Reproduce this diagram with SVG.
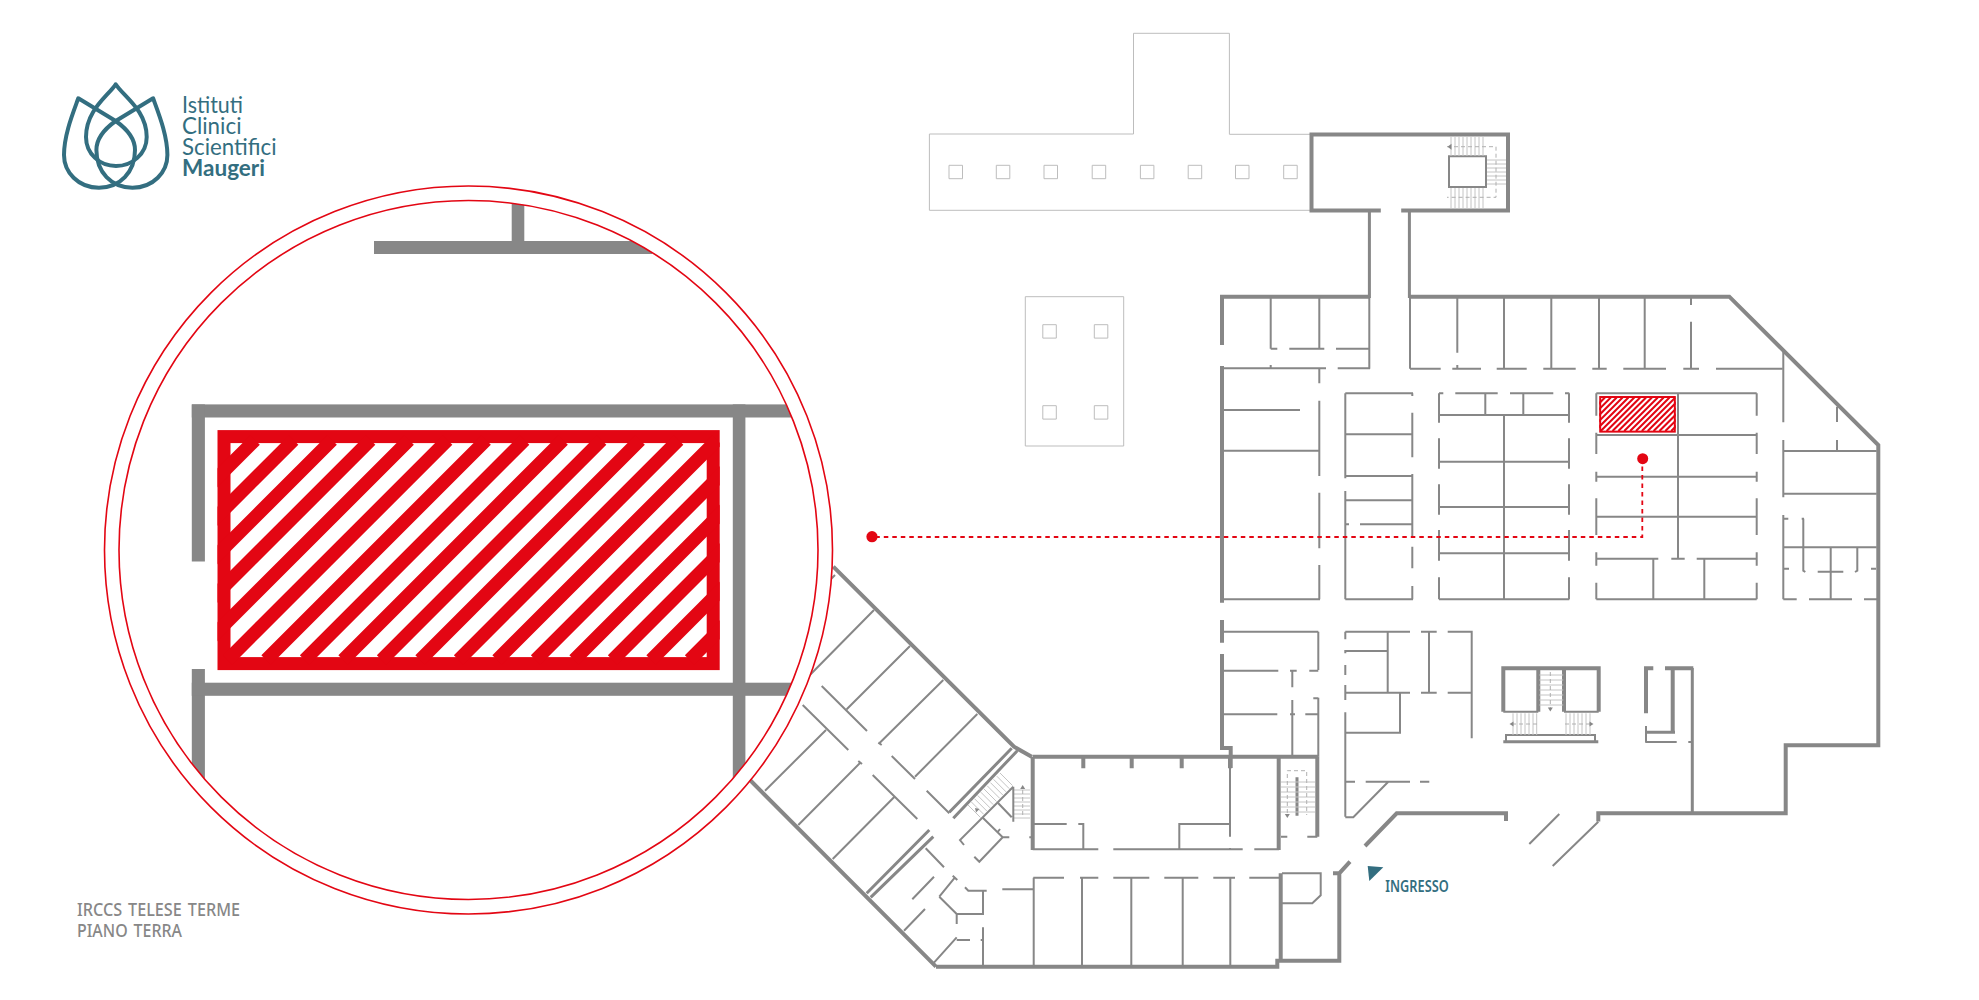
<svg xmlns="http://www.w3.org/2000/svg" width="1979" height="1000" viewBox="0 0 1979 1000">
<style>
text{font-family:"Noto Sans","Open Sans","Liberation Sans",sans-serif}
.teal{fill:#336e80}
.lt{font-family:Lato,"Noto Sans",sans-serif;font-size:22.5px}
.logo{fill:none;stroke:#336e80;stroke-width:4;stroke-linejoin:round}
.t{fill:none;stroke:#878787;stroke-width:2}
.m{fill:none;stroke:#878787;stroke-width:3}
.k{fill:none;stroke:#878787;stroke-width:4}
.o{fill:none;stroke:#bdbdbd;stroke-width:1}
.s{fill:none;stroke:#c4c4c4;stroke-width:1}
.d{fill:none;stroke:#b0b0b0;stroke-width:1;stroke-dasharray:4 3}
.a{fill:#878787}
.gt{fill:#878787;font-size:18px;font-weight:500;word-spacing:2px}
.mag{fill:#878787}
.ring{fill:none;stroke:#e30613;stroke-width:1.6}
.red{fill:#e30613}
</style>
<defs>
<clipPath id="inner"><circle cx="468.5" cy="550" r="349.5"/></clipPath>
<clipPath id="hc"><rect x="217.5" y="430" width="502.2" height="240"/></clipPath>
<g id="hatch">
<rect x="224" y="436.6" width="489.2" height="227" fill="#fff" stroke="#e30613" stroke-width="13"/>
<path clip-path="url(#hc)" fill="none" stroke="#e30613" stroke-width="13.4" d="M255.1 440l-220 220M293.6 440l-220 220M332.1 440l-220 220M370.6 440l-220 220M409.1 440l-220 220M447.6 440l-220 220M486.1 440l-220 220M524.6 440l-220 220M563.1 440l-220 220M601.6 440l-220 220M640.1 440l-220 220M678.6 440l-220 220M717.1 440l-220 220M755.6 440l-220 220M794.1 440l-220 220M832.6 440l-220 220M871.1 440l-220 220M909.6 440l-220 220"/>
</g>
</defs>

<g id="logo">
<path class="logo" d="M115.7 84.3C108 96 86 110 86 137C86 154 100 166 116 166C132 166 146.7 154 146.7 137C146.7 110 123 96 115.7 84.3Z"/>
<path class="logo" d="M78.3 98.3L115.7 121C127 129 135 138 135 150C135 172 120 187.7 99 187.7C78 187.7 64 172 64 155C64 135 73 113 78.3 98.3Z"/>
<path class="logo" d="M153.1 98.3L115.7 121C104.4 129 96.4 138 96.4 150C96.4 172 111.4 187.7 132.4 187.7C153.4 187.7 167.4 172 167.4 155C167.4 135 158.4 113 153.1 98.3Z"/>
<text class="teal lt" x="182" y="112.7" textLength="61" lengthAdjust="spacingAndGlyphs">Istituti</text>
<text class="teal lt" x="182" y="133.7" textLength="59.5" lengthAdjust="spacingAndGlyphs">Clinici</text>
<text class="teal lt" x="182" y="155" textLength="94.5" lengthAdjust="spacingAndGlyphs">Scientifici</text>
<text class="teal lt" x="182" y="176" font-weight="700" textLength="83" lengthAdjust="spacingAndGlyphs">Maugeri</text>
</g>

<g id="annex">
<path class="o" d="M1310 134.3H1229.4V33.3H1133.5V134H929.4V210.3H1310"/>
<path class="o" d="M949 165.3h13.5v13.4h-13.5zM996.3 165.3h13.5v13.4h-13.5zM1044 165.3h13.5v13.4h-13.5zM1092.2 165.3h13.5v13.4h-13.5zM1140.4 165.3h13.5v13.4h-13.5zM1188.2 165.3h13.5v13.4h-13.5zM1235.5 165.3h13.5v13.4h-13.5zM1283.7 165.3h13.5v13.4h-13.5z"/>
<path class="o" d="M1025.3 296.7H1123.7V446H1025.3Z"/>
<path class="o" d="M1042.8 324.7h13.5v13.4h-13.5zM1094.3 324.7h13.5v13.4h-13.5zM1042.8 405.7h13.5v13.4h-13.5zM1094.3 405.7h13.5v13.4h-13.5z"/>
</g>

<g id="plan">
<path class="k" d="M1380.8 210.5H1311.5V134.5H1508V210.5H1401.2"/>
<path class="m" d="M1369.4 210V298M1409.4 210V298"/>
<path class="m" d="M1449 156.3H1486V187H1449Z" style="stroke-width:2"/>
<path class="s" d="M1451 137V156M1455 137V156M1459 137V156M1463 137V156M1467 137V156M1471 137V156M1475 137V156M1479 137V156M1483 137V156M1451 188V208M1455 188V208M1459 188V208M1463 188V208M1467 188V208M1471 188V208M1475 188V208M1479 188V208M1483 188V208M1487 160H1506M1487 164H1506M1487 168H1506M1487 172H1506M1487 176H1506M1487 180H1506M1487 184H1506"/>
<path class="d" d="M1447 146.7H1496V197.3H1447"/>
<polygon class="a" points="1447.5,146.7 1451.5,143.7 1451.5,149.7"/>

<path class="k" d="M1222 345V296.7H1369.4M1409.4 296.7H1729.3L1878.3 445V745.3H1785.7V813.3H1598.3V821.5M1222 366V602.7M1222 620V642.7M1222 654V748H1230.7V768M1032.7 756.7H1318.3M1506 821V813.3H1396.7L1365 846M1350 861.7L1339.3 873.3V960.7H1280.7M1333 873.3H1339.3M1280.7 873.3V960.7M936 966.7H1277.3V960.7H1281M833.3 566.7L1014 746.7L1031.7 756.7M750 780L936 966.7M1032.7 756.7V850M1278.7 756.7V850M1317.3 756.7V836.7M1083.3 756.7V768.3M1131.7 756.7V768.3M1181.7 756.7V768.3M1230 756.7V768.3"/>
<path class="m" d="M949.3 812.3L1011.7 748.3M953.3 818.3L1017.3 750.7M866.7 893.3L929.3 830M870.7 897.3L933.3 836.7M1297 777.3V815.7M1503.3 741.7H1598.3"/>
<path class="t" d="M1552.7 866L1598.3 821.7M1529.3 844L1559.3 814"/>

<path class="t" d="M1270.7 296.7V348.7M1319.3 296.7V349M1369.3 296.7V368.7M1270.7 348.7H1277.3M1289.3 348.7H1324.3M1336 348.7H1369.3M1224 368.3H1326M1337.7 368.3H1370M1270.7 365V368.3M1319.3 368.3V383.3M1319.3 400.7V476M1319.3 492.7V548.3M1319.3 565V599.3M1224 410H1300M1224 450.7H1319.3M1224 599.3H1320"/>
<path class="t" d="M1345.3 393.3V478.3M1345.3 491V599.3M1412.3 393.3V396M1412.3 412.7V457.3M1412.3 474V536M1412.3 546.7V568.3M1412.3 586V599.3M1345.3 393.3H1413M1345.3 434.3H1412.3M1345.3 476H1412.3M1345.3 500.3H1412.3M1345.3 524.3H1349M1360 524.3H1412.3M1345.3 599.3H1413"/>
<path class="t" d="M1439 393.3V422.7M1439 438.3V468.7M1439 484.3V514.7M1439 530V560.7M1439 577.3V599.3M1569 393.3V422.7M1569 438.3V468.7M1569 484.3V514.7M1569 530V560.7M1569 577.3V599.3M1504 415V599.3M1439 393.3H1443.3M1455.3 393.3H1497.7M1510 393.3H1553.3M1565 393.3H1569.3M1439 415H1569M1485.3 393.3V415M1523.3 393.3V415M1439 461.7H1569M1439 507H1569M1439 553.3H1569M1439 599.3H1569.3"/>
<path class="t" d="M1410 296.7V368.7M1410 368.7H1440.7M1452.3 368.7H1481M1496.7 368.7H1526.7M1543.3 368.7H1575.7M1592.3 368.7H1606.7M1623.3 368.7H1666M1683.3 368.7H1699M1716 368.7H1782.7M1457.3 296.7V352.7M1457.3 365V368.7M1504 296.7V368.7M1551.3 296.7V368.7M1599 296.7V368.7M1644.7 296.7V368.7M1691 296.7V305M1691 321.7V368.7"/>
<path class="t" d="M1596.3 393.3V415.7M1596.3 432.7V454M1596.3 471.7V481.7M1596.3 498.3V535M1596.3 552.3V565.7M1596.3 582.7V599.3M1756.7 393.3V415.7M1756.7 432.7V454M1756.7 471.7V481.7M1756.7 498.3V535M1756.7 552.3V565.7M1756.7 582.7V599.3M1678 393.3V558.7M1596.3 393.3H1756.7M1596.3 435H1756.7M1596.3 476.7H1756.7M1596.3 516.7H1756.7M1596.3 558.7H1658.3M1671.3 558.7H1684.7M1696.7 558.7H1756.7M1596.3 599.3H1756.7M1653.3 558.7V599.3M1704.3 558.7V599.3"/>
<path class="t" d="M1783.3 351.7V422.3M1783.3 440V497.3M1783.3 515V599.3M1837 406.7V422M1837 440V451M1783.3 451H1876.7M1783.3 493.7H1876.7M1783.3 547.3H1876.7M1783.3 518.7H1788.3M1801.7 518.7H1804M1803.3 518.7V570.7L1805.3 572M1830.7 547.3V599.3M1857.3 547.3V570.7L1855 572M1783.3 568.7H1789M1871 568.7H1876M1817.7 571.7H1843.3M1783.3 599.3H1796.7M1809 599.3H1852M1864 599.3H1878"/>
<path class="t" d="M1318.3 631.7V670M1318.3 697.7V756.7M1223.3 631.7H1318.3M1224 670.7H1278.3M1290 670.7H1296.7M1309.3 670.7H1318.3M1313.3 698.3H1318.3M1224 714.3H1277.3M1290 714.3H1295M1305.3 714.3H1318.3M1292.3 670.7V687.3M1292.3 700V755"/>
<path class="t" d="M1345.3 631.7V639.3M1345.3 650V653.3M1345.3 665V675M1345.3 685V700M1345.3 712.3V816.7M1345.3 631.7H1410M1421 631.7H1436.7M1447.7 631.7H1471.7V738.3M1387.7 631.7V692.7M1429 631.7V692.7M1345.3 651H1387.7M1345.3 692.7H1410M1421 692.7H1436.7M1447.7 692.7H1471.7M1400 692.7V732.7H1345.3M1345.3 781.7H1355M1365.7 781.7H1410M1420 781.7H1429.3M1388.3 781.7L1353.3 817.3H1345.3"/>

<path class="k" d="M1503.3 711.7V668.3H1598.7V711.7M1538.3 670V711.7M1564 670V711.7M1644 668.3H1653.3M1646 668V713.3M1665 668.3H1693.3M1672.7 668.3V732.3"/>
<path class="m" d="M1646 732.3H1675M1692.3 668V815"/>
<path class="t" d="M1503.3 711.7H1538.3M1564 711.7H1598.7M1506 741V735H1595V741M1646 726V742.7M1646 742H1676.7M1688.3 742H1691.7"/>
<path class="s" d="M1539.3 675H1563.3M1539.3 680H1563.3M1539.3 685H1563.3M1539.3 690H1563.3M1539.3 695H1563.3M1539.3 700H1563.3M1539.3 705H1563.3M1513 713.3V735M1517 713.3V735M1521 713.3V735M1525 713.3V735M1529 713.3V735M1533 713.3V735M1536.7 713.3V735M1566 713.3V735M1570 713.3V735M1574 713.3V735M1578 713.3V735M1582 713.3V735M1586 713.3V735M1590 713.3V735"/>
<path class="d" d="M1550.3 672V708M1512 724H1538M1565 724H1591"/>
<polygon class="a" points="1550.3,711.5 1547.8,707.5 1552.8,707.5"/>
<polygon class="a" points="1509.5,724 1513.5,721.5 1513.5,726.5"/>
<polygon class="a" points="1593.5,724 1589.5,721.5 1589.5,726.5"/>

<path class="t" d="M1034 824H1066.7M1078.3 824H1083.3V849.3M1179.3 849.3V824H1230M1032.7 849.3H1098.3M1113.3 849.3H1229M1230 848V849.3H1242.7M1254.3 849.3H1279M1281 836.7H1287.3M1307.3 836.7H1317.3M1230 756.7V836.7"/>
<path class="t" d="M1033.3 877.7H1064M1080 877.7H1098.3M1113.3 877.7H1149.3M1164.3 877.7H1198.3M1213.3 877.7H1235M1249.3 877.7H1279.3M1033.7 877.7V966.7M1082 877.7V966.7M1131.3 877.7V966.7M1182.7 877.7V966.7M1230.3 877.7V966.7"/>
<path class="t" d="M1282 873.3H1320.7V895.3L1312.3 903.3H1282"/>
<path class="s" d="M1281 782H1315M1281 787H1315M1281 792H1315M1281 797H1315M1281 802H1315M1281 807H1315M1281 812H1315"/>
<path class="d" d="M1287.3 813V770.7H1306.7V815"/>
<polygon class="a" points="1287.3,818 1284.8,814 1289.8,814"/>

<path class="t" d="M835 575L828.3 581.7M874 610L806.7 678.3M910 646L846.7 709.3M943.3 680L879.3 743.3M977.3 714L915 776.7M821.7 686L867 731M891.7 756L915 779M926.7 790.7L949.3 813.3M802.7 705L848.3 750M872.7 775L917.3 819M826 730L765 790.7M860.7 762.3L798.3 825M894 797.3L832.7 859M878.3 742.7L881.7 745M858.3 761L862 764"/>
<path class="s" d="M968 805l12.5 12.5M971.2 801.8l12.5 12.5M974.4 798.6l12.5 12.5M977.6 795.4l12.5 12.5M980.8 792.2l12.5 12.5M984 789l12.5 12.5M987.2 785.8l12.5 12.5M990.4 782.6l12.5 12.5M993.6 779.4l12.5 12.5M996.8 776.2l12.5 12.5M1000 773l12.5 12.5"/>
<path class="s" d="M1013.3 790H1030M1013.3 794H1030M1013.3 798H1030M1013.3 802H1030M1013.3 806H1030M1013.3 810H1030M1013.3 814H1030M1013.3 818H1030"/>
<path class="d" d="M1022.7 790V818"/>
<polygon class="a" points="1022.7,785 1020.2,789 1025.2,789"/>
<polygon class="a" points="975,808 979.5,809 976,812.5"/>
<path class="t" d="M1013.3 786.7L960 840L964 845M998.3 803.3L1011.7 817.3M1013.3 786.7V821.7M983.3 818.3L1002.7 837.3L979.3 861.7L974.3 856.7M1002.7 837.3H1009.3M1029.3 837.3H1032.7M1000 829L997 833"/>
<path class="t" d="M1002.3 889.3H1033.3M965 887.3L968.3 890.7H986.7M983 890.7V914M956.7 914H984M939.3 896.7L956.7 914M939.3 896.7L955 877.3M952.7 875.7L957.3 880M956.7 914V924M956.7 937.3L934 962.7M956.7 940H970M983 927.3V966.7M980.7 940H983M925 909L904 930.7M934 876.7L912.3 899.3M925.7 848.3L944 867.3"/>
</g>

<g id="connector">
<path d="M1642.3 458V537H872" fill="none" stroke="#e30613" stroke-width="1.8" stroke-dasharray="4.5 4"/>
<circle class="red" cx="1642.7" cy="458.7" r="5.5"/>
<circle class="red" cx="872" cy="536.7" r="5.6"/>
</g>

<use href="#hatch" transform="translate(1637.5 414.3) scale(.1525) translate(-468.6 -550)"/>

<g id="ingresso">
<polygon class="teal" points="1367.7,866 1383.3,867.3 1369.3,881"/>
<text class="teal" x="1385.3" y="891.7" font-size="15.5" font-weight="600" textLength="63.4" lengthAdjust="spacingAndGlyphs">INGRESSO</text>
</g>

<g id="caption">
<text class="gt" x="77" y="916.3" textLength="163" lengthAdjust="spacingAndGlyphs">IRCCS TELESE TERME</text>
<text class="gt" x="77" y="936.8" textLength="105" lengthAdjust="spacingAndGlyphs">PIANO TERRA</text>
</g>

<g id="magnifier">
<circle cx="468.5" cy="550" r="364" fill="#fff"/>
<g clip-path="url(#inner)">
<rect class="mag" x="374" y="241" width="278" height="13"/>
<rect class="mag" x="511.7" y="190" width="12.6" height="52"/>
<rect class="mag" x="191.8" y="404.4" width="620" height="13.1"/>
<rect class="mag" x="191.8" y="404.4" width="13.1" height="157.1"/>
<rect class="mag" x="191.8" y="669" width="13.1" height="200"/>
<rect class="mag" x="191.8" y="682.7" width="620" height="13.1"/>
<rect class="mag" x="732.8" y="404.4" width="12.6" height="480"/>
<use href="#hatch"/>
</g>
<circle class="ring" cx="468.5" cy="550" r="364"/>
<circle class="ring" cx="468.5" cy="550" r="349.5"/>
</g>
</svg>
